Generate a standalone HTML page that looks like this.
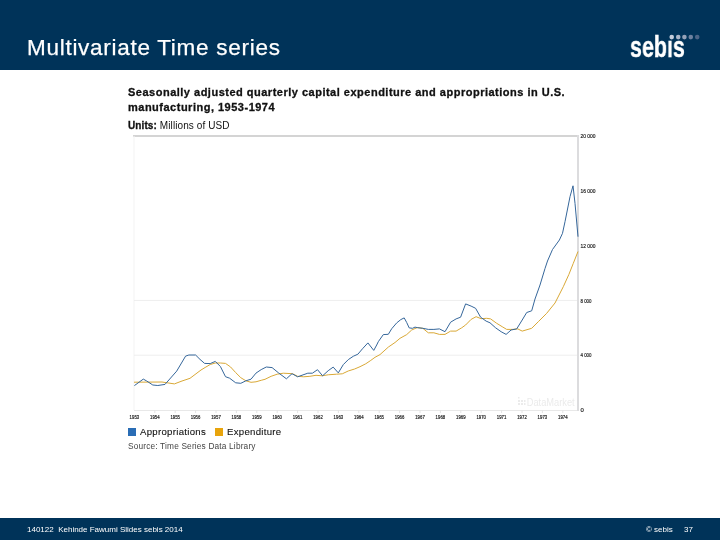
<!DOCTYPE html>
<html><head><meta charset="utf-8"><style>
html,body{margin:0;padding:0;}
body{width:720px;height:540px;position:relative;overflow:hidden;background:#fff;font-family:"Liberation Sans",sans-serif;}
.hdr{position:absolute;left:0;top:0;width:720px;height:70px;background:#003359;}
.ttl{position:absolute;left:27px;top:33px;font-size:22.5px;letter-spacing:0.72px;-webkit-text-stroke:0.25px #fff;color:#fff;white-space:nowrap;line-height:30px;}
.ftr{position:absolute;left:0;top:518px;width:720px;height:22px;background:#003359;color:#fff;font-size:8px;}
.ft1{position:absolute;left:27px;top:7px;white-space:nowrap;}
.ft2{position:absolute;left:646px;top:7px;white-space:nowrap;}
.ft3{position:absolute;left:684px;top:7px;white-space:nowrap;}
.logo{position:absolute;left:630px;top:29.5px;font-weight:bold;font-size:29px;color:#fff;transform-origin:0 0;transform:scaleX(0.74);line-height:34px;-webkit-text-stroke:0.4px #fff;}
.ct{position:absolute;left:128px;top:85px;font-size:11px;letter-spacing:0.5px;-webkit-text-stroke:0.3px #111;font-weight:bold;color:#111;line-height:15px;white-space:nowrap;}
.units{position:absolute;left:128px;top:119.5px;letter-spacing:0.1px;font-size:10px;color:#111;white-space:nowrap;}
.leg{position:absolute;top:425.5px;font-size:9.6px;letter-spacing:0.3px;line-height:12px;color:#111;-webkit-text-stroke:0.1px #111;white-space:nowrap;}
.sw{position:absolute;top:428px;width:8px;height:8px;}
.src{position:absolute;left:128px;top:441px;font-size:8.3px;letter-spacing:0.17px;color:#444;white-space:nowrap;}
svg{position:absolute;left:0;top:0;}
div,svg{will-change:transform;}
.ax text{stroke:#222;stroke-width:0.2px;}
</style></head><body>
<div class="hdr"></div>
<div class="ttl">Multivariate Time series</div>
<div class="logo">seb&#305;s</div>
<svg width="720" height="70" style="position:absolute;left:0;top:0">
<circle cx="671.7" cy="37.1" r="2.3" fill="#c5cedc"/>
<circle cx="678.2" cy="37.1" r="2.3" fill="#aab5c8"/>
<circle cx="684.4" cy="37.1" r="2.3" fill="#95a2b8"/>
<circle cx="690.8" cy="37.1" r="2.3" fill="#6e82a0"/>
<circle cx="697.2" cy="37.1" r="2.3" fill="#4d6688"/>
</svg>
<div class="ct">Seasonally adjusted quarterly capital expenditure and appropriations in U.S.<br>manufacturing, 1953-1974</div>
<div class="units"><b style="-webkit-text-stroke:0.3px #111">Units:</b> Millions of USD</div>
<svg class="ax" width="720" height="540" style="position:absolute;left:0;top:0;font-family:'Liberation Sans';font-size:6px;fill:#222">
<line x1="133" y1="136" x2="578" y2="136" stroke="#d4d4d4" stroke-width="2"/>
<line x1="578" y1="135" x2="578" y2="411" stroke="#dcdcde" stroke-width="2"/>
<line x1="134" y1="136" x2="134" y2="410" stroke="#f3f3f3" stroke-width="1"/>
<line x1="134" y1="300.4" x2="577" y2="300.4" stroke="#eeeeee" stroke-width="1"/>
<line x1="134" y1="355.2" x2="577" y2="355.2" stroke="#eeeeee" stroke-width="1"/>
<line x1="134" y1="410.5" x2="577" y2="410.5" stroke="#e8e8e8" stroke-width="1"/>
<text x="129.6" y="419" textLength="9.6" lengthAdjust="spacingAndGlyphs">1953</text><text x="150.0" y="419" textLength="9.6" lengthAdjust="spacingAndGlyphs">1954</text><line x1="154.8" y1="410" x2="154.8" y2="413" stroke="#e4e4e4" stroke-width="1"/><text x="170.4" y="419" textLength="9.6" lengthAdjust="spacingAndGlyphs">1955</text><line x1="175.2" y1="410" x2="175.2" y2="413" stroke="#e4e4e4" stroke-width="1"/><text x="190.8" y="419" textLength="9.6" lengthAdjust="spacingAndGlyphs">1956</text><line x1="195.6" y1="410" x2="195.6" y2="413" stroke="#e4e4e4" stroke-width="1"/><text x="211.2" y="419" textLength="9.6" lengthAdjust="spacingAndGlyphs">1957</text><line x1="216.0" y1="410" x2="216.0" y2="413" stroke="#e4e4e4" stroke-width="1"/><text x="231.6" y="419" textLength="9.6" lengthAdjust="spacingAndGlyphs">1958</text><line x1="236.4" y1="410" x2="236.4" y2="413" stroke="#e4e4e4" stroke-width="1"/><text x="252.0" y="419" textLength="9.6" lengthAdjust="spacingAndGlyphs">1959</text><line x1="256.8" y1="410" x2="256.8" y2="413" stroke="#e4e4e4" stroke-width="1"/><text x="272.4" y="419" textLength="9.6" lengthAdjust="spacingAndGlyphs">1960</text><line x1="277.2" y1="410" x2="277.2" y2="413" stroke="#e4e4e4" stroke-width="1"/><text x="292.8" y="419" textLength="9.6" lengthAdjust="spacingAndGlyphs">1961</text><line x1="297.6" y1="410" x2="297.6" y2="413" stroke="#e4e4e4" stroke-width="1"/><text x="313.2" y="419" textLength="9.6" lengthAdjust="spacingAndGlyphs">1962</text><line x1="318.0" y1="410" x2="318.0" y2="413" stroke="#e4e4e4" stroke-width="1"/><text x="333.6" y="419" textLength="9.6" lengthAdjust="spacingAndGlyphs">1963</text><line x1="338.4" y1="410" x2="338.4" y2="413" stroke="#e4e4e4" stroke-width="1"/><text x="354.0" y="419" textLength="9.6" lengthAdjust="spacingAndGlyphs">1964</text><line x1="358.8" y1="410" x2="358.8" y2="413" stroke="#e4e4e4" stroke-width="1"/><text x="374.4" y="419" textLength="9.6" lengthAdjust="spacingAndGlyphs">1965</text><line x1="379.2" y1="410" x2="379.2" y2="413" stroke="#e4e4e4" stroke-width="1"/><text x="394.8" y="419" textLength="9.6" lengthAdjust="spacingAndGlyphs">1966</text><line x1="399.6" y1="410" x2="399.6" y2="413" stroke="#e4e4e4" stroke-width="1"/><text x="415.2" y="419" textLength="9.6" lengthAdjust="spacingAndGlyphs">1967</text><line x1="420.0" y1="410" x2="420.0" y2="413" stroke="#e4e4e4" stroke-width="1"/><text x="435.6" y="419" textLength="9.6" lengthAdjust="spacingAndGlyphs">1968</text><line x1="440.4" y1="410" x2="440.4" y2="413" stroke="#e4e4e4" stroke-width="1"/><text x="456.0" y="419" textLength="9.6" lengthAdjust="spacingAndGlyphs">1969</text><line x1="460.8" y1="410" x2="460.8" y2="413" stroke="#e4e4e4" stroke-width="1"/><text x="476.4" y="419" textLength="9.6" lengthAdjust="spacingAndGlyphs">1970</text><line x1="481.2" y1="410" x2="481.2" y2="413" stroke="#e4e4e4" stroke-width="1"/><text x="496.8" y="419" textLength="9.6" lengthAdjust="spacingAndGlyphs">1971</text><line x1="501.6" y1="410" x2="501.6" y2="413" stroke="#e4e4e4" stroke-width="1"/><text x="517.2" y="419" textLength="9.6" lengthAdjust="spacingAndGlyphs">1972</text><line x1="522.0" y1="410" x2="522.0" y2="413" stroke="#e4e4e4" stroke-width="1"/><text x="537.6" y="419" textLength="9.6" lengthAdjust="spacingAndGlyphs">1973</text><line x1="542.4" y1="410" x2="542.4" y2="413" stroke="#e4e4e4" stroke-width="1"/><text x="558.0" y="419" textLength="9.6" lengthAdjust="spacingAndGlyphs">1974</text><line x1="562.8" y1="410" x2="562.8" y2="413" stroke="#e4e4e4" stroke-width="1"/>
<text x="580.5" y="138.1" textLength="15" lengthAdjust="spacingAndGlyphs">20 000</text><text x="580.5" y="192.9" textLength="15" lengthAdjust="spacingAndGlyphs">16 000</text><text x="580.5" y="247.7" textLength="15" lengthAdjust="spacingAndGlyphs">12 000</text><text x="580.5" y="302.5" textLength="11" lengthAdjust="spacingAndGlyphs">8 000</text><text x="580.5" y="357.3" textLength="11" lengthAdjust="spacingAndGlyphs">4 000</text><text x="580.5" y="412.1" textLength="3.3" lengthAdjust="spacingAndGlyphs">0</text>
<text x="526.7" y="406" textLength="48" lengthAdjust="spacingAndGlyphs" style="font-size:10.5px;fill:#ebebeb;stroke:none">DataMarket</text>
<g fill="#ebebeb"><rect x="518" y="397" width="1.5" height="1.5"/><rect x="518" y="400" width="2" height="2"/><rect x="521" y="400" width="2" height="2"/><rect x="524" y="400" width="1.5" height="2"/><rect x="518" y="403" width="2" height="2"/><rect x="521" y="403" width="2" height="2"/><rect x="524" y="403" width="1.5" height="2"/></g>
<polyline points="134,382.2 162,382 174.4,383.9 182,381 190,378.3 201,370 205.1,367.5 210.2,364.5 215.3,363 220.4,363 225.5,363.4 230.6,367 235.7,372.6 240.8,377.7 245.9,380.8 251,382.3 256,381.8 261.2,380.3 265,379.3 271.1,376.3 277.2,374.2 283.3,373.2 292.5,373.7 297.6,376.3 303.7,376.8 309.9,376.3 316,375.3 322.1,375.8 328.2,374.8 336.5,374.2 342.3,373.8 348.2,371 354.6,369 360,366.7 365.8,363.75 370.8,360.4 375,357.3 380,354.6 388.3,347.1 395,342.5 400,338.3 406.7,334.6 411.7,330 417.2,327.6 422.8,328.3 428.3,332.8 433.9,332.8 439.4,334.4 445,334.4 450.6,331.1 456.1,331.1 461.7,327.8 465.6,325 471.1,319.4 476.1,316.7 481.1,318.7 486.7,318.3 490.6,318.9 496.7,323.3 502.2,326.7 506.7,329.4 512.2,329.4 517.8,328.9 522.2,331.1 531.7,328.3 538.3,321.7 546.7,313.3 555,303 563.3,286.7 568.9,274.4 573.3,263.3 578,251.5" fill="none" stroke="#d9a836" stroke-width="1" stroke-linejoin="round"/>
<polyline points="134.4,385.6 143.3,379.1 146.7,381 152.8,385 157.8,385.5 165,384.4 176.7,371.1 185.6,356.1 188.9,355 195.6,355 200,359.4 204.6,363.4 210.2,363.6 215.3,361.4 220.4,366.5 225.5,376.7 229.6,378.2 235.7,382.8 240.8,383.3 245.9,380.8 251,379.2 256,373.1 261.2,369.6 266.3,367 272.1,367.6 278.3,372.7 286.4,378.8 292,373.7 297.6,376.8 307.8,373.2 312.4,373.2 317.5,369.7 322.6,375.8 328.2,370.7 333.2,367.1 338.3,372.9 343.3,364.6 348.3,359.6 353.3,356.25 357.9,354.2 362.5,348.75 367.9,342.9 373.75,350.4 376.7,345 378.3,341.7 383.3,334.6 388.3,334.3 391.7,328.75 396.7,322.9 400.8,319.6 404.2,317.9 406.7,322.5 409.2,327.9 412.5,328.3 415,327.1 417.2,327.6 422.8,328.3 428.3,329.4 433.9,329.4 439.4,328.9 445,331.7 450.6,322.2 456.1,318.9 460.6,317.2 465.6,303.9 471.1,306.1 475.6,308.3 480.6,317.2 486.1,321.1 490,322.8 495.6,327.8 501.1,331.7 506.1,334.4 511.1,330 516.7,328.9 522.2,320 526.7,312.5 531.7,310.8 535,299 540,285 545,268.5 547.5,261 552.5,249.5 559.4,240 562.5,233.3 565,221.7 570,196.7 573,185.8 575,203.3 578,236.7" fill="none" stroke="#35669a" stroke-width="1" stroke-linejoin="round"/>
</svg>
<div class="sw" style="left:128px;background:#2a6db5"></div>
<div class="leg" style="left:140px">Appropriations</div>
<div class="sw" style="left:215px;background:#e8a40c"></div>
<div class="leg" style="left:227px">Expenditure</div>
<div class="src">Source: Time Series Data Library</div>
<div class="ftr"><span class="ft1">140122&nbsp; Kehinde Fawumi Slides sebis 2014</span><span class="ft2">© sebis</span><span class="ft3">37</span></div>
</body></html>
